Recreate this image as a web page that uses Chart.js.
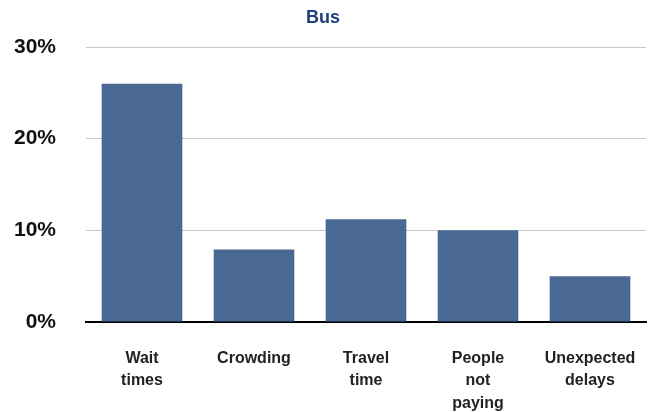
<!DOCTYPE html>
<html>
<head>
<meta charset="utf-8">
<script src="https://cdn.jsdelivr.net/npm/chart.js@4.4.1/dist/chart.umd.min.js"></script>
<style>
  html, body { margin: 0; padding: 0; background: #fff; }
  #wrap { width: 649px; height: 412px; }
</style>
</head>
<body>
<div id="wrap"><canvas id="busChart" width="649" height="412"></canvas></div>
<script>
const categories = [['Wait', 'times'], 'Crowding', ['Travel', 'time'], ['People', 'not', 'paying'], ['Unexpected', 'delays']];
const busShares = [26, 7.9, 11.2, 10, 5];
const yTicks = [0, 10, 20, 30];

const ctx = document.getElementById('busChart').getContext('2d');
new Chart(ctx, {
    type: 'bar',
    data: {
        labels: categories,
        datasets: [{
            label: 'Bus',
            data: busShares,
            backgroundColor: '#4a6894',
            borderWidth: 0,
            categoryPercentage: 1,
            barPercentage: 0.72
        }]
    },
    options: {
        responsive: false,
        animation: false,
        layout: { padding: { left: 0, right: 3, top: 0, bottom: 0 } },
        plugins: {
            legend: { display: false },
            tooltip: { enabled: false },
            title: {
                display: true,
                text: 'Bus',
                color: '#1d3f7c',
                font: { family: 'Liberation Sans, Arial, sans-serif', size: 18, weight: 'bold' },
                padding: { top: 7, bottom: 18.4 }
            }
        },
        scales: {
            x: {
                grid: { display: false, drawTicks: false },
                border: { color: '#000', width: 2 },
                ticks: {
                    color: '#222',
                    padding: 25,
                    maxRotation: 0,
                    autoSkip: false,
                    font: { family: 'Liberation Sans, Arial, sans-serif', size: 16, weight: 'bold', lineHeight: 1.42 }
                },
                afterFit: function(scale) {
                    scale.height = 90;
                    // labels may hang past the plot edges, don't shrink the plot for them
                    scale.paddingLeft = 0;
                    scale.paddingRight = 0;
                }
            },
            y: {
                min: yTicks[0],
                max: yTicks[yTicks.length - 1],
                afterBuildTicks: function(scale) {
                    scale.ticks = yTicks.map(v => ({ value: v }));
                },
                grid: { color: '#c8c8c8', lineWidth: 1, drawTicks: false },
                border: { display: false },
                ticks: {
                    color: '#111',
                    padding: 30,
                    callback: v => v + '%',
                    font: { family: 'Liberation Sans, Arial, sans-serif', size: 21, weight: 'bold' }
                },
                afterFit: function(scale) { scale.width = 86; }
            }
        }
    }
});
</script>
</body>
</html>
